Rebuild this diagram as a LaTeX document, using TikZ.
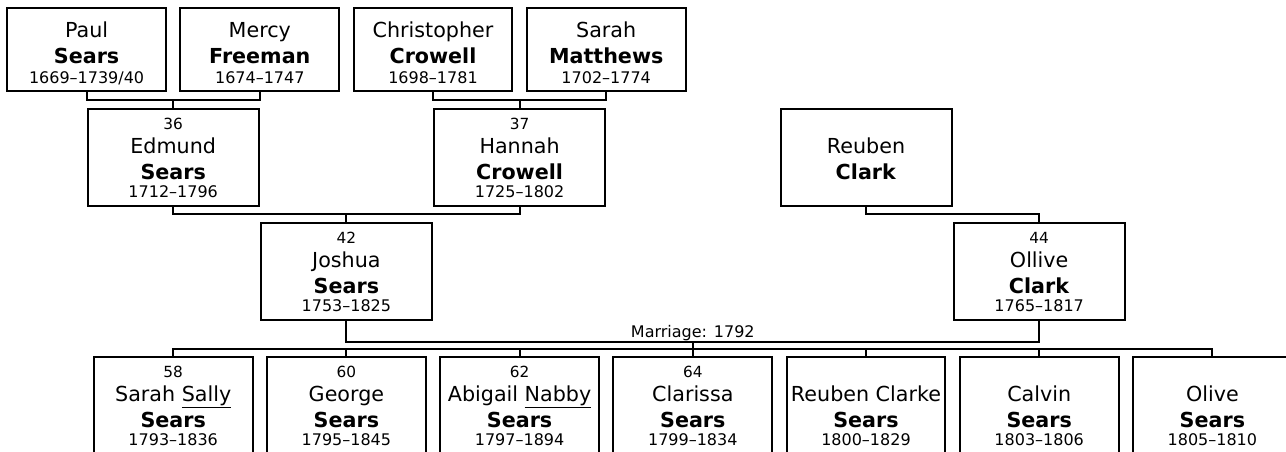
\documentclass[tikz,border=0pt]{standalone}
\usepackage{fontspec}
\setmainfont{DejaVu Sans}
\usetikzlibrary{positioning}

\newcommand{\numfont}{\fontsize{11.5}{13}\selectfont}
\newcommand{\datefont}{\fontsize{12}{13}\selectfont}
\newcommand{\person}[4]{{\numfont\vphantom{0}#1}\\[-1.5pt]#2\\\textbf{#3}\\[-6pt]{\datefont\vphantom{0}#4}}
\newcommand{\elder}[3]{\rule{0pt}{17pt}#1\\\textbf{#2}\\[-4.5pt]{\datefont #3}}

\begin{document}
\begin{tikzpicture}[
    x=0.75pt, y=-0.75pt,
    line width=1.5pt,
    node distance=10.9pt,
    box/.style = {draw, rectangle, inner sep=0pt, outer sep=0pt, align=center,
                  font=\fontsize{15.5}{19.5}\selectfont, minimum width=119pt, minimum height=72.75pt},
    elderbox/.style = {box, minimum height=62.25pt},
    widebox/.style = {box, minimum width=128.25pt},
    marriage/.style = {inner sep=0pt, font=\fontsize{12}{13}\selectfont}
]
    \useasboundingbox (0,0) rectangle (1286,452);
    \clip (0,0) rectangle (1286,452);

    \node [elderbox] (paul) at (86.6,49.5) {\elder{Paul}{Sears}{1669–1739/40}};
    \node [elderbox, right=of paul] (mercy) {\elder{Mercy}{Freeman}{1674–1747}};
    \node [elderbox, right=of mercy] (christopher) {\elder{Christopher}{Crowell}{1698–1781}};
    \node [elderbox, right=of christopher] (sarahm) {\elder{Sarah}{Matthews}{1702–1774}};

    \node [widebox] (edmund) at (173.2,157.5) {\person{36}{Edmund}{Sears}{1712–1796}};
    \node [widebox] (hannah) at (519.6,157.5) {\person{37}{Hannah}{Crowell}{1725–1802}};
    \node [widebox] (reuben) at (866,157.5) {\person{}{Reuben}{Clark}{}};

    \node [widebox] (joshua) at (346.4,271.5) {\person{42}{Joshua}{Sears}{1753–1825}};
    \node [widebox] (ollive) at (1039.2,271.5) {\person{44}{Ollive}{Clark}{1765–1817}};

    \node [box] (sally) at (173.2,406) {\person{58}{Sarah \underline{Sally}}{Sears}{1793–1836}};
    \node [box, right=of sally] (george) {\person{60}{George}{Sears}{1795–1845}};
    \node [box, right=of george] (abigail) {\person{62}{Abigail \underline{Nabby}}{Sears}{1797–1894}};
    \node [box, right=of abigail] (clarissa) {\person{64}{Clarissa}{Sears}{1799–1834}};
    \node [box, right=of clarissa] (reubenc) {\person{}{\makebox[119pt]{Reuben Clarke}}{Sears}{1800–1829}};
    \node [box, right=of reubenc] (calvin) {\person{}{Calvin}{Sears}{1803–1806}};
    \node [box, right=of calvin] (olive) {\person{}{Olive}{Sears}{1805–1810}};

    \coordinate (j36) at (173.2,100);
    \coordinate (j37) at (519.6,100);
    \coordinate (j42) at (346.4,214.5);
    \coordinate (j44) at (1039.2,214.5);
    \coordinate (wed) at (692.8,342);
    \coordinate (bus) at (692.8,349);

    \draw (paul.south) |- (j36) -| (mercy.south);
    \draw (j36) -- (edmund.north);
    \draw (christopher.south) |- (j37) -| (sarahm.south);
    \draw (j37) -- (hannah.north);
    \draw (edmund.south) |- (j42) -| (hannah.south);
    \draw (j42) -- (joshua.north);
    \draw (reuben.south) |- (j44) -- (ollive.north);

    \draw (joshua.south) |- (wed) -| (ollive.south);
    \node [marriage, anchor=base] (wedlabel) at ([yshift=3.5pt]wed) {Marriage: 1792};
    \draw (wed) -- (bus);
    \draw (sally.north) |- (bus) -| (olive.north);
    \foreach \kid in {george, abigail, clarissa, reubenc, calvin}
        \draw (\kid.north) -- (\kid.north |- bus);
\end{tikzpicture}
\end{document}
